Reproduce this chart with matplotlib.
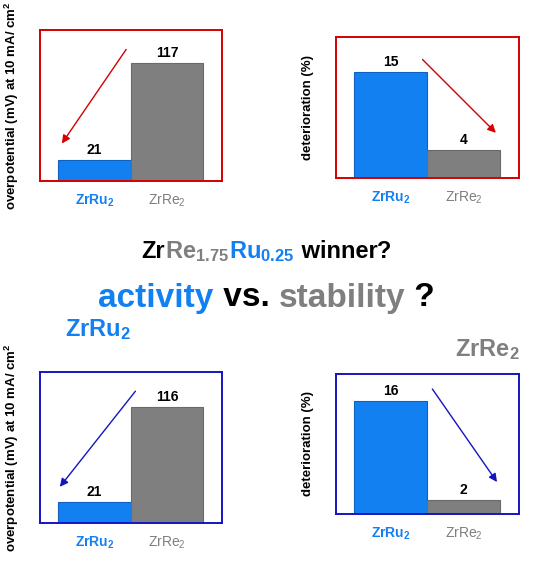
import matplotlib.pyplot as plt

# === DATA ===
categories = ["ZrRu$_2$", "ZrRe$_2$"]
overpot_top = [21, 117]
deter_top = [15, 4]
overpot_bot = [21, 116]
deter_bot = [16, 2]

BLUE = "#1380f2"
GRAY = "#7f7f7f"
RED = "#d40000"
NAVY = "#1515c0"
W, H = 533, 562

plt.rcParams['font.family'] = ['Liberation Sans', 'DejaVu Sans']
plt.rcParams['mathtext.default'] = 'regular'
fig = plt.figure(figsize=(W / 100, H / 100), dpi=100)


def px_axes(x0, y0, x1, y1):
    return fig.add_axes([x0 / W, 1 - y1 / H, (x1 - x0) / W, (y1 - y0) / H])


def panel(box, vals, ymax, frame, arrow, ylabel, label_x):
    ax = px_axes(*box)
    bars = ax.bar([0, 1], vals, width=1.0, color=[BLUE, GRAY],
                  edgecolor=["#1060c0", "#6a6a6a"], linewidth=0.8)
    ax.set_xlim(-0.75, 1.76)
    ax.set_ylim(0, ymax)
    for b, v in zip(bars, vals):
        ax.annotate(str(v), (b.get_x() + 0.5, v), xytext=(0, 2), textcoords="offset points",
                    ha="center", va="bottom", fontsize=10, fontweight="bold")
    for s in ax.spines.values():
        s.set_color(frame)
        s.set_linewidth(1.4)
    ax.set_yticks([])
    ax.set_xticks([0, 1])
    ax.set_xticklabels(categories, fontsize=10)
    ax.tick_params(axis="x", length=0, pad=8)
    lab = ax.get_xticklabels()
    lab[0].set_color(BLUE)
    lab[0].set_fontweight("bold")
    lab[1].set_color(GRAY)
    (x0, y0), (x1, y1) = arrow
    ax.annotate("", xy=(x1, y1), xytext=(x0, y0),
                arrowprops=dict(arrowstyle="-|>", color=frame, lw=1.0, mutation_scale=12))
    cy = 1 - (box[1] + box[3]) / 2 / H
    fig.text(label_x / W, cy, ylabel, rotation=90, ha="center", va="center",
             fontsize=9.5, fontweight="bold")
    return ax


ylab1 = "overpotential (mV) at 10 mA/ cm$^2$"
panel((40, 30, 222, 181), overpot_top, 150, RED, ((0.46, 133), (-0.47, 35)), ylab1, 12)
panel((336, 37, 519, 178), deter_top, 19.9, RED, ((0.41, 17.0), (1.47, 6.1)), "deterioration (%)", 308)
panel((40, 372, 222, 523), overpot_bot, 151, NAVY, ((0.59, 134), (-0.5, 34)), ylab1, 12)
panel((336, 374, 519, 514), deter_bot, 19.8, NAVY, ((0.55, 18.0), (1.48, 4.2)), "deterioration (%)", 308)

# === CENTRAL TEXT ===
renderer = fig.canvas.get_renderer()


def colored_line(pieces, y, size):
    texts = []
    t = None
    for s, c in pieces:
        x = 0 if t is None else t.get_window_extent(renderer).x1 / W
        t = fig.text(x, y, s, color=c, fontsize=size, fontweight="bold", va="center")
        texts.append(t)
    ext0 = texts[0].get_window_extent(renderer)
    ext1 = texts[-1].get_window_extent(renderer)
    shift = (W / 2 - (ext0.x0 + ext1.x1) / 2) / W
    for tt in texts:
        tt.set_x(tt.get_position()[0] + shift)


colored_line([("Zr", "black"), ("Re$_{1.75}$", GRAY), ("Ru$_{0.25}$", BLUE),
              (" winner", "black"), ("?", "black")], 1 - 252 / H, 17)
colored_line([("activity", BLUE), (" vs. ", "black"), ("stability", GRAY), (" ?", "black")],
             1 - 298 / H, 24)
fig.text(65 / W, 1 - 330 / H, "ZrRu$_2$", color=BLUE, fontsize=17, fontweight="bold", va="center")
fig.text(520 / W, 1 - 350 / H, "ZrRe$_2$", color=GRAY, fontsize=17, fontweight="bold",
         va="center", ha="right")

fig.savefig("out.png", dpi=100)
